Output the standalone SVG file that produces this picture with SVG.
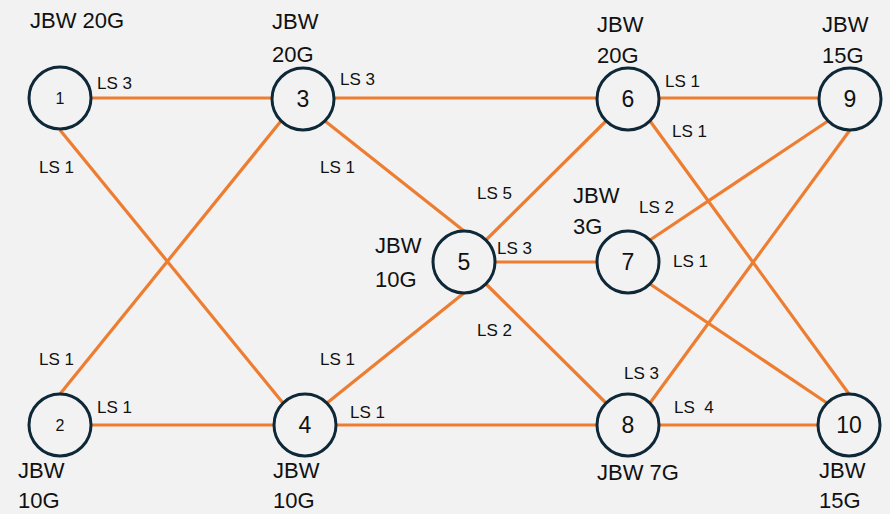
<svg xmlns="http://www.w3.org/2000/svg" width="890" height="514" viewBox="0 0 890 514">
<style>
.bg{fill:#f2f2f2}
.e{stroke:#ed7d31;stroke-width:3.2;fill:none;stroke-linecap:butt}
.n circle{fill:#f2f2f2;stroke:#0e2838;stroke-width:3}
text{font-family:"Liberation Sans",Arial,sans-serif;fill:#111}
.num{font-size:23px;text-anchor:middle}
.sm{font-size:16px;text-anchor:middle}
.ls{font-size:17px;white-space:pre}
.jbw{font-size:22px}
</style>
<rect class="bg" x="0" y="0" width="890" height="514"/>
<g id="connectors">
<line class="e" x1="92" y1="98" x2="272" y2="98"/>
<line class="e" x1="60" y1="130" x2="283" y2="403"/>
<line class="e" x1="60" y1="394" x2="281" y2="121"/>
<line class="e" x1="92" y1="425" x2="274" y2="425"/>
<line class="e" x1="327" y1="403" x2="464" y2="293"/>
<line class="e" x1="336" y1="425" x2="597" y2="425"/>
<line class="e" x1="325" y1="121" x2="464" y2="231"/>
<line class="e" x1="334" y1="98" x2="597" y2="98"/>
<line class="e" x1="486" y1="240" x2="606" y2="121"/>
<line class="e" x1="495" y1="262" x2="597" y2="262"/>
<line class="e" x1="486" y1="284" x2="606" y2="403"/>
<line class="e" x1="659" y1="98" x2="819" y2="98"/>
<line class="e" x1="650" y1="121" x2="849" y2="394"/>
<line class="e" x1="650" y1="240" x2="828" y2="121"/>
<line class="e" x1="650" y1="284" x2="827" y2="403"/>
<line class="e" x1="650" y1="403" x2="850" y2="130"/>
<line class="e" x1="659" y1="425" x2="818" y2="425"/>
</g>
<g id="node1" class="n"><circle cx="60" cy="98" r="31"/><text class="sm" x="60" y="104">1</text></g>
<g id="node2" class="n"><circle cx="60" cy="425" r="31"/><text class="sm" x="60" y="431">2</text></g>
<g id="node3" class="n"><circle cx="303" cy="99" r="31"/><text class="num" x="303" y="107">3</text></g>
<g id="node4" class="n"><circle cx="305" cy="425" r="31"/><text class="num" x="305" y="433">4</text></g>
<g id="node5" class="n"><circle cx="464" cy="262" r="31"/><text class="num" x="464" y="270">5</text></g>
<g id="node6" class="n"><circle cx="628" cy="99" r="31"/><text class="num" x="628" y="107">6</text></g>
<g id="node7" class="n"><circle cx="628" cy="262" r="31"/><text class="num" x="628" y="270">7</text></g>
<g id="node8" class="n"><circle cx="628" cy="425" r="31"/><text class="num" x="628" y="433">8</text></g>
<g id="node9" class="n"><circle cx="850" cy="99" r="31"/><text class="num" x="850" y="107">9</text></g>
<g id="node10" class="n"><circle cx="849" cy="425" r="31"/><text class="num" x="849" y="433">10</text></g>
<g id="labels">
<text class="jbw" x="30" y="28">JBW 20G</text>
<text class="jbw" x="272" y="29">JBW</text><text class="jbw" x="272" y="62">20G</text>
<text class="jbw" x="597" y="32">JBW</text><text class="jbw" x="597" y="63">20G</text>
<text class="jbw" x="822" y="32">JBW</text><text class="jbw" x="822" y="63">15G</text>
<text class="jbw" x="375" y="253">JBW</text><text class="jbw" x="375" y="287">10G</text>
<text class="jbw" x="573" y="203">JBW</text><text class="jbw" x="573" y="234">3G</text>
<text class="jbw" x="18" y="478">JBW</text><text class="jbw" x="18" y="508">10G</text>
<text class="jbw" x="273" y="478">JBW</text><text class="jbw" x="273" y="508">10G</text>
<text class="jbw" x="597" y="480">JBW 7G</text>
<text class="jbw" x="819" y="478">JBW</text><text class="jbw" x="819" y="508">15G</text>
<text class="ls" x="97" y="89">LS 3</text>
<text class="ls" x="340" y="85">LS 3</text>
<text class="ls" x="39" y="173">LS 1</text>
<text class="ls" x="320" y="173">LS 1</text>
<text class="ls" x="39" y="365">LS 1</text>
<text class="ls" x="320" y="365">LS 1</text>
<text class="ls" x="97" y="413">LS 1</text>
<text class="ls" x="350" y="418">LS 1</text>
<text class="ls" x="477" y="199">LS 5</text>
<text class="ls" x="497" y="254">LS 3</text>
<text class="ls" x="477" y="336">LS 2</text>
<text class="ls" x="639" y="213">LS 2</text>
<text class="ls" x="673" y="267">LS 1</text>
<text class="ls" x="665" y="87">LS 1</text>
<text class="ls" x="672" y="137">LS 1</text>
<text class="ls" x="624" y="379">LS 3</text>
<text class="ls" x="674" y="413">LS  4</text>
</g>
</svg>
